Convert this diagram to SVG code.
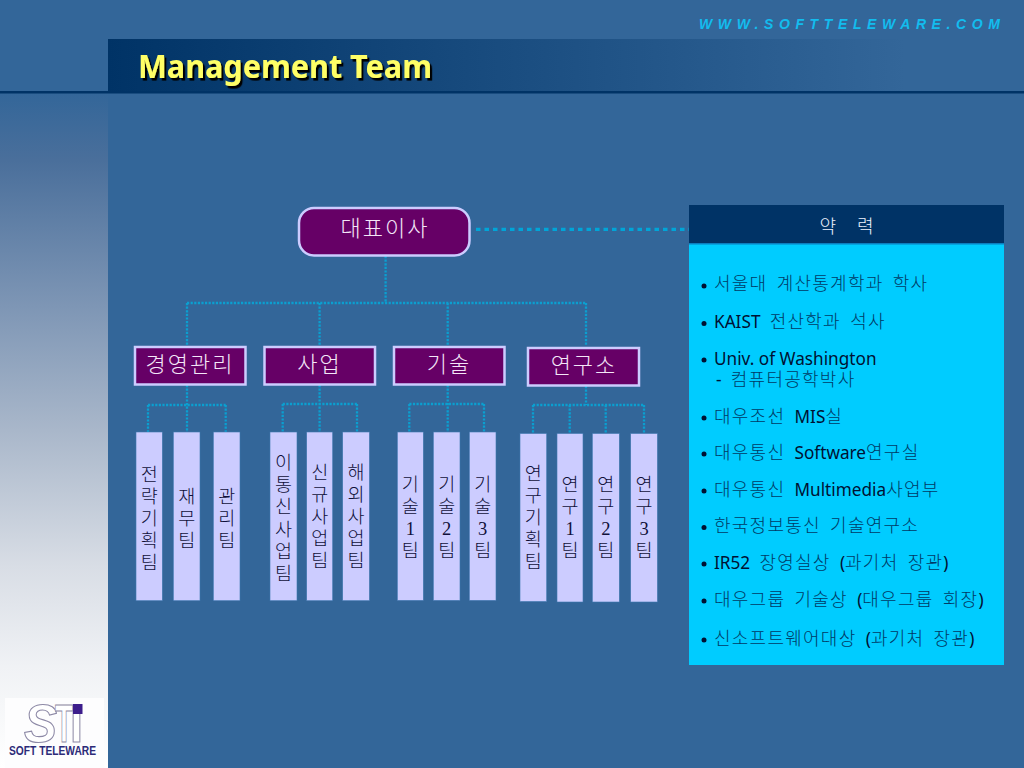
<svg xmlns="http://www.w3.org/2000/svg" width="1024" height="768" viewBox="0 0 1024 768">
<style>
.kr{font-family:"Noto Sans CJK KR",sans-serif;font-weight:300}
.lat{font-family:"Noto Sans",sans-serif;font-weight:400;fill:#001133;font-size:17.200px;letter-spacing:0;word-spacing:0}
.head{fill:#660066;stroke:#ccccff;stroke-width:2.500}
.hl{fill:#f4e6f8;font-size:22px;text-anchor:middle;letter-spacing:2px}
.team{fill:#ccccff;stroke:#3f78b0;stroke-width:.6}
.tl{fill:#10103a;font-size:18.500px;text-anchor:middle}
.dig{font-family:"Liberation Serif",serif;font-size:18.500px}
.item{fill:#003a66;font-size:18px;letter-spacing:1.250px;word-spacing:4px}
.bul{fill:#001133}
.conn{fill:none;stroke:#0b9fd0;stroke-width:2.300;stroke-dasharray:2.200 1.400}
.conn2{fill:none;stroke:#00a5d8;stroke-width:3.200;stroke-dasharray:4.500 4}
.logo{font-family:"Liberation Sans",sans-serif;font-size:53px;font-weight:700;fill:#fff;stroke:#8d89a6;stroke-width:1.100}
</style>
<defs>
<linearGradient id="side" x1="0" y1="0" x2="0" y2="1">
<stop offset="0" stop-color="#336699"/><stop offset=".1" stop-color="#4a6f9b"/><stop offset=".3" stop-color="#7a93b3"/><stop offset=".5" stop-color="#a9b7ca"/><stop offset=".7" stop-color="#d8dde5"/><stop offset=".85" stop-color="#f0f2f5"/><stop offset="1" stop-color="#ffffff"/>
</linearGradient>
<linearGradient id="bar" x1="0" y1="0" x2="1" y2="0"><stop offset="0" stop-color="#003366"/><stop offset=".87" stop-color="#336699"/><stop offset="1" stop-color="#336699"/></linearGradient>
<filter id="sh" x="-5%" y="-20%" width="110%" height="140%"><feDropShadow dx="2.200" dy="2.600" stdDeviation=".3" flood-color="#000" flood-opacity="1"/></filter>
</defs>
<rect width="1024" height="768" fill="#336699"/>
<rect x="0" y="93" width="108" height="675" fill="url(#side)"/>
<rect x="108" y="39" width="916" height="54" fill="url(#bar)"/>
<rect x="0" y="91" width="1024" height="2.500" fill="#003366"/>
<text x="138" y="78" textLength="294" lengthAdjust="spacingAndGlyphs" font-family="Noto Sans,sans-serif" font-weight="700" font-size="32" fill="#ffff66" filter="url(#sh)">Management Team</text>
<text x="699" y="29" textLength="301" font-family="Liberation Sans,sans-serif" font-weight="700" font-style="italic" font-size="14" fill="#12bcee">WWW.SOFTTELEWARE.COM</text>

<g id="logo">
<rect x="5" y="698" width="99" height="70" fill="#fdfdfe"/>
<text class="logo" x="24" y="742" textLength="33" lengthAdjust="spacingAndGlyphs" font-style="italic">S</text>
<text class="logo" x="55" y="742" textLength="18" lengthAdjust="spacingAndGlyphs">T</text>
<text class="logo" x="70" y="742" textLength="13" lengthAdjust="spacingAndGlyphs">I</text>
<rect x="73" y="704" width="9.500" height="10" fill="#3d1e8c"/>
<text x="9" y="755" textLength="87" lengthAdjust="spacingAndGlyphs" font-family="Liberation Sans,sans-serif" font-weight="700" font-size="12" fill="#2c2a78">SOFT TELEWARE</text>
</g>

<g id="connectors">
<path class="conn" d="M385.600 256V303M187 303H586M187 303V346M319.600 303V346M447.700 303V346M586 303V346"/>
<path class="conn" d="M187 385V432M148 405H225.700M148 405V432M225.700 405V432"/>
<path class="conn" d="M319.600 385V432M282.700 404H357M282.700 404V432M357 404V432"/>
<path class="conn" d="M447.700 385V432M409.300 404H484M409.300 404V432M484 404V432"/>
<path class="conn" d="M586 386V405M533 405H644M533 405V433M569.700 405V433M605.700 405V433M644 405V433"/>
<path class="conn2" d="M476 229.300H689"/>
</g>

<g id="ceo"><rect class="head" x="299" y="208" width="170.500" height="47.500" rx="15"/><text class="kr hl" x="385" y="236">대표이사</text></g>
<g id="dept-mgmt"><rect class="head" x="135" y="347" width="110.500" height="37.500"/><text class="kr hl" x="190" y="372">경영관리</text></g>
<g id="dept-biz"><rect class="head" x="264.500" y="347" width="110.500" height="37.500"/><text class="kr hl" x="319.500" y="372">사업</text></g>
<g id="dept-tech"><rect class="head" x="394" y="347" width="110.500" height="37.500"/><text class="kr hl" x="449" y="372">기술</text></g>
<g id="dept-lab"><rect class="head" x="528" y="348" width="111" height="37.500"/><text class="kr hl" x="584" y="373">연구소</text></g>

<g id="team-1"><rect class="team" x="136" y="432" width="26.300" height="168.700"/><text class="kr tl" y="481"><tspan x="149.200">전</tspan><tspan x="149.200" dy="22">략</tspan><tspan x="149.200" dy="22">기</tspan><tspan x="149.200" dy="22">획</tspan><tspan x="149.200" dy="22">팀</tspan></text></g>
<g id="team-2"><rect class="team" x="173.300" y="432" width="26.700" height="168.700"/><text class="kr tl" y="503"><tspan x="186.700">재</tspan><tspan x="186.700" dy="22">무</tspan><tspan x="186.700" dy="22">팀</tspan></text></g>
<g id="team-3"><rect class="team" x="213.300" y="432" width="26.700" height="168.700"/><text class="kr tl" y="503"><tspan x="226.700">관</tspan><tspan x="226.700" dy="22">리</tspan><tspan x="226.700" dy="22">팀</tspan></text></g>
<g id="team-4"><rect class="team" x="270" y="432" width="27" height="168.700"/><text class="kr tl" y="469"><tspan x="283.500">이</tspan><tspan x="283.500" dy="22.200">통</tspan><tspan x="283.500" dy="22.200">신</tspan><tspan x="283.500" dy="22.200">사</tspan><tspan x="283.500" dy="22.200">업</tspan><tspan x="283.500" dy="22.200">팀</tspan></text></g>
<g id="team-5"><rect class="team" x="306.700" y="432" width="26" height="168.700"/><text class="kr tl" y="479"><tspan x="319.700">신</tspan><tspan x="319.700" dy="22">규</tspan><tspan x="319.700" dy="22">사</tspan><tspan x="319.700" dy="22">업</tspan><tspan x="319.700" dy="22">팀</tspan></text></g>
<g id="team-6"><rect class="team" x="342.700" y="432" width="26.700" height="168.700"/><text class="kr tl" y="479"><tspan x="356">해</tspan><tspan x="356" dy="22">외</tspan><tspan x="356" dy="22">사</tspan><tspan x="356" dy="22">업</tspan><tspan x="356" dy="22">팀</tspan></text></g>
<g id="team-7"><rect class="team" x="397.300" y="432" width="26" height="168.400"/><text class="kr tl" y="491"><tspan x="410.300">기</tspan><tspan x="410.300" dy="22">술</tspan><tspan class="dig" x="410.300" dy="22">1</tspan><tspan x="410.300" dy="22">팀</tspan></text></g>
<g id="team-8"><rect class="team" x="433.300" y="432" width="26.700" height="168.400"/><text class="kr tl" y="491"><tspan x="446.700">기</tspan><tspan x="446.700" dy="22">술</tspan><tspan class="dig" x="446.700" dy="22">2</tspan><tspan x="446.700" dy="22">팀</tspan></text></g>
<g id="team-9"><rect class="team" x="469.300" y="432" width="26.700" height="168.400"/><text class="kr tl" y="491"><tspan x="482.700">기</tspan><tspan x="482.700" dy="22">술</tspan><tspan class="dig" x="482.700" dy="22">3</tspan><tspan x="482.700" dy="22">팀</tspan></text></g>
<g id="team-10"><rect class="team" x="520" y="433.500" width="26.700" height="168"/><text class="kr tl" y="480"><tspan x="533.300">연</tspan><tspan x="533.300" dy="22">구</tspan><tspan x="533.300" dy="22">기</tspan><tspan x="533.300" dy="22">획</tspan><tspan x="533.300" dy="22">팀</tspan></text></g>
<g id="team-11"><rect class="team" x="557" y="433.500" width="26" height="168.500"/><text class="kr tl" y="491"><tspan x="570">연</tspan><tspan x="570" dy="22">구</tspan><tspan class="dig" x="570" dy="22">1</tspan><tspan x="570" dy="22">팀</tspan></text></g>
<g id="team-12"><rect class="team" x="592.300" y="433.500" width="27" height="168.500"/><text class="kr tl" y="491"><tspan x="605.800">연</tspan><tspan x="605.800" dy="22">구</tspan><tspan class="dig" x="605.800" dy="22">2</tspan><tspan x="605.800" dy="22">팀</tspan></text></g>
<g id="team-13"><rect class="team" x="630.700" y="433.500" width="26.700" height="168.500"/><text class="kr tl" y="491"><tspan x="644">연</tspan><tspan x="644" dy="22">구</tspan><tspan class="dig" x="644" dy="22">3</tspan><tspan x="644" dy="22">팀</tspan></text></g>

<g id="career">
<rect x="689" y="205" width="315" height="39" fill="#003366"/>
<rect x="689" y="244" width="315" height="421" fill="#00ccff"/>
<rect x="689" y="243" width="315" height="1.500" fill="#0b7fc0"/>
<text class="kr" x="846.500" y="233" font-size="18" fill="#eef4ff" text-anchor="middle" word-spacing="17">약 력</text>
<g class="bul"><circle cx="704" cy="286" r="2.500"/><circle cx="704" cy="323.500" r="2.500"/><circle cx="704" cy="360" r="2.500"/><circle cx="704" cy="418" r="2.500"/><circle cx="704" cy="454" r="2.500"/><circle cx="704" cy="491" r="2.500"/><circle cx="704" cy="527.500" r="2.500"/><circle cx="704" cy="564" r="2.500"/><circle cx="704" cy="601" r="2.500"/><circle cx="704" cy="640" r="2.500"/></g>
<text class="kr item" x="714" y="290">서울대 계산통계학과 학사</text>
<text class="kr item" x="714" y="328" word-spacing="2"><tspan class="lat">KAIST</tspan> 전산학과 석사</text>
<text class="lat" x="714" y="365">Univ. of Washington</text>
<text class="kr item" x="716" y="386"><tspan class="lat">-</tspan> 컴퓨터공학박사</text>
<text class="kr item" x="714" y="423">대우조선 <tspan class="lat">MIS</tspan>실</text>
<text class="kr item" x="714" y="459">대우통신 <tspan class="lat">Software</tspan>연구실</text>
<text class="kr item" x="714" y="496">대우통신 <tspan class="lat">Multimedia</tspan>사업부</text>
<text class="kr item" x="714" y="532">한국정보통신 기술연구소</text>
<text class="kr item" x="714" y="569"><tspan class="lat">IR52</tspan> 장영실상 <tspan class="lat">(</tspan>과기처 장관<tspan class="lat">)</tspan></text>
<text class="kr item" x="714" y="606">대우그룹 기술상 <tspan class="lat">(</tspan>대우그룹 회장<tspan class="lat">)</tspan></text>
<text class="kr item" x="714" y="645">신소프트웨어대상 <tspan class="lat">(</tspan>과기처 장관<tspan class="lat">)</tspan></text>
</g>
</svg>
